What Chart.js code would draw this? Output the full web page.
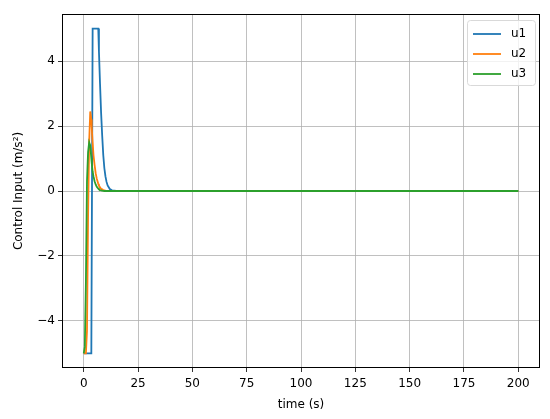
<!DOCTYPE html>
<html><head><meta charset="utf-8">
<script src="https://cdn.jsdelivr.net/npm/chart.js@4/dist/chart.umd.min.js"></script>
<style>html,body{margin:0;padding:0;background:#fff}#wrap{width:550px;height:419px}</style>
</head><body><div id="wrap"><canvas id="c" width="550" height="419"></canvas></div>
<script>
const time = [0, 0.5, 1, 1.5, 2, 2.5, 3, 3.5, 3.7, 4.1, 4.5, 5, 5.5, 6, 6.7, 7, 7.5, 8, 8.5, 9, 9.5, 10, 10.5, 11, 12, 13, 14, 15, 200];
const u1 = [-5, -5, -5, -5, -5, -5, -5, -5, -5, 5, 5, 5, 5, 5, 5, 4.3, 3.3, 2.4, 1.7, 1.1, 0.7, 0.45, 0.28, 0.17, 0.06, 0.02, 0.01, 0, 0];
const u2 = [-5, -5, -5, -4.3, -0.8, 1.5, 2.45, 2.2, 1.95, 1.5, 1.1, 0.8, 0.55, 0.38, 0.22, 0.17, 0.11, 0.07, 0.05, 0.03, 0.02, 0.01, 0.005, 0, 0, 0, 0, 0, 0];
const u3 = [-5, -4.8, -2.8, 0.3, 1.2, 1.5, 1.4, 1.0, 0.85, 0.6, 0.45, 0.3, 0.2, 0.13, 0.07, 0.05, 0.03, 0.02, 0.01, 0.005, 0, 0, 0, 0, 0, 0, 0, 0, 0];
const xTicks = [0, 25, 50, 75, 100, 125, 150, 175, 200];
const yTicks = [-4, -2, 0, 2, 4];
const seriesNames = ['u1', 'u2', 'u3'];
const colors = ['#1f77b4', '#ff7f0e', '#2ca02c'];

const pts = arr => arr.map((v, i) => ({x: time[i], y: v}));
const fmt = v => (v < 0 ? '\u2212' + Math.abs(v) : String(v));

const frame = {
  id: 'frame',
  afterDraw(chart) {
    const {ctx, chartArea: a} = chart;
    ctx.save();
    ctx.strokeStyle = '#000';
    ctx.lineWidth = 1;
    ctx.strokeRect(a.left + 0.5, a.top + 0.5, a.right - a.left - 1, a.bottom - a.top - 1);
    // legend
    const bx = 467, by = 20, bw = 68, bh = 65;
    ctx.fillStyle = 'rgba(255,255,255,0.8)';
    ctx.strokeStyle = '#d9d9d9';
    ctx.beginPath();
    if (ctx.roundRect) ctx.roundRect(bx + 0.5, by + 0.5, bw, bh, 3); else ctx.rect(bx + 0.5, by + 0.5, bw, bh);
    ctx.fill(); ctx.stroke();
    ctx.font = '12px "DejaVu Sans"';
    ctx.textBaseline = 'middle';
    seriesNames.forEach((n, i) => {
      const yy = by + 14 + i * 20;
      ctx.strokeStyle = colors[i];
      ctx.lineWidth = 1.8;
      ctx.beginPath(); ctx.moveTo(bx + 6, yy); ctx.lineTo(bx + 34, yy); ctx.stroke();
      ctx.fillStyle = '#000';
      ctx.fillText(n, bx + 44, yy);
    });
    ctx.restore();
  }
};

new Chart(document.getElementById('c'), {
  type: 'line',
  data: {
    datasets: [u1, u2, u3].map((d, i) => ({
      label: seriesNames[i], data: pts(d), borderColor: colors[i], backgroundColor: colors[i],
      borderWidth: 1.8, pointRadius: 0, tension: 0, fill: false, order: 2 - i
    }))
  },
  options: {
    responsive: false, animation: false, devicePixelRatio: 1,
    layout: {padding: {left: 12, top: 14, right: 10, bottom: 7}},
    plugins: {legend: {display: false}, tooltip: {enabled: false}},
    scales: {
      x: {
        type: 'linear', min: -10, max: 210,
        afterBuildTicks: s => { s.ticks = xTicks.map(v => ({value: v})); },
        afterFit: s => { s.height = 44; },
        grid: {color: '#b0b0b0', lineWidth: 0.8, tickColor: '#000', tickLength: 4, drawTicks: true},
        border: {display: false},
        ticks: {color: '#000', font: {family: 'DejaVu Sans', size: 12}, padding: 5, maxRotation: 0, callback: v => fmt(v)},
        title: {display: true, text: 'time (s)', color: '#000', font: {family: 'DejaVu Sans', size: 12}, padding: {top: 2, bottom: 0}}
      },
      y: {
        type: 'linear', min: -5.45, max: 5.45,
        afterBuildTicks: s => { s.ticks = yTicks.map(v => ({value: v})); },
        afterFit: s => { s.width = 50; },
        grid: {color: '#b0b0b0', lineWidth: 0.8, tickColor: '#000', tickLength: 4, drawTicks: true},
        border: {display: false},
        ticks: {color: '#000', font: {family: 'DejaVu Sans', size: 12}, padding: 3, callback: v => fmt(v)},
        title: {display: true, text: 'Control Input (m/s²)', color: '#000', font: {family: 'DejaVu Sans', size: 12}, padding: {top: 0, bottom: 4}}
      }
    }
  },
  plugins: [frame]
});
</script></body></html>
